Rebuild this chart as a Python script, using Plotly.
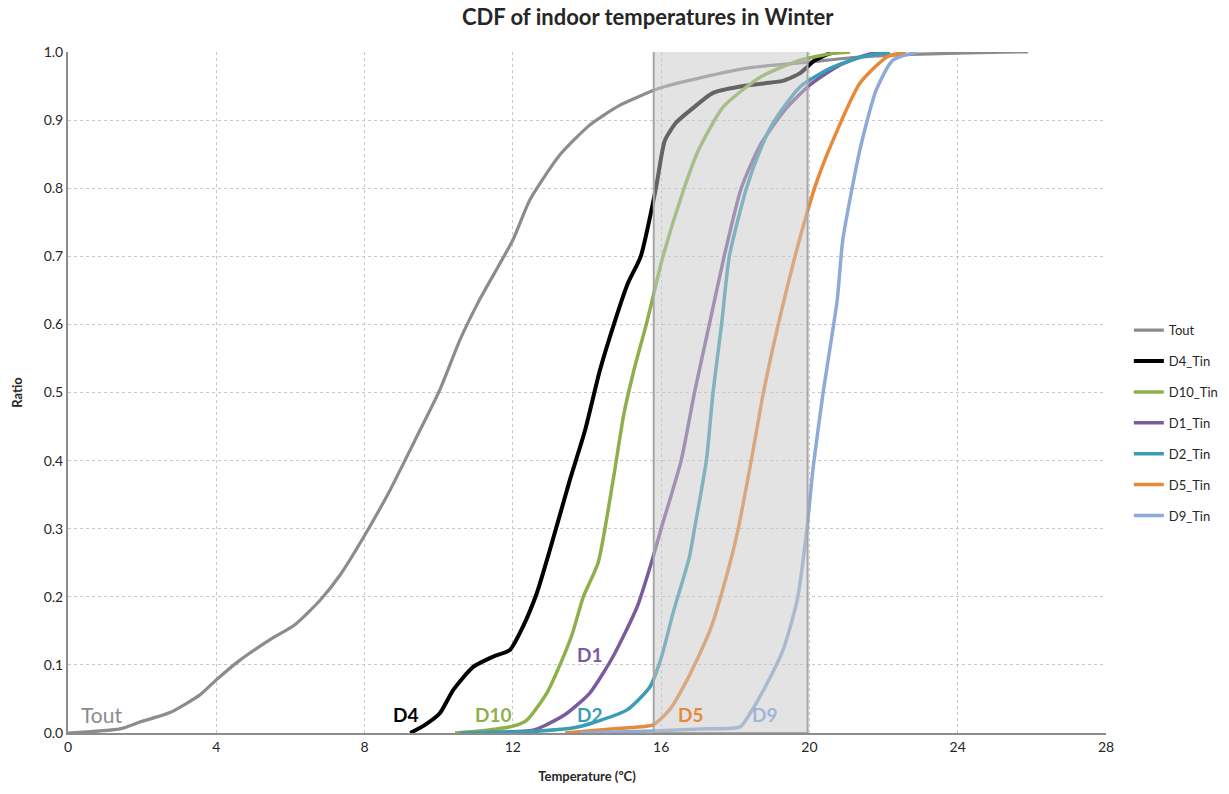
import plotly.graph_objects as go

# ---- data ----
tout_x = [0, 1.4, 1.94, 2.75, 3.56, 4.0, 4.64, 5.45, 6.12, 6.8, 7.34, 8.0, 8.69, 9.36, 10.03, 10.57,
          11.1, 12.0, 12.46, 13.27, 14.08, 14.89, 15.97, 17.05, 18.4, 19.96, 21.4, 23.0, 25.6, 25.9]
tout_y = [0, 0.006, 0.016, 0.03, 0.056, 0.078, 0.107, 0.137, 0.159, 0.195, 0.232, 0.29, 0.357, 0.43,
          0.504, 0.577, 0.636, 0.724, 0.783, 0.849, 0.893, 0.922, 0.947, 0.962, 0.977, 0.985, 0.993,
          0.997, 1.0, 1.0]

d4_x = [9.23, 9.63, 10.03, 10.39, 10.93, 11.46, 11.92, 12.27, 12.65, 13.0, 13.54, 13.95, 14.35,
        14.76, 15.1, 15.45, 15.86, 16.1, 16.4, 16.8, 17.4, 18.1, 18.8, 19.3, 19.75, 20.15, 20.56, 20.8]
d4_y = [0, 0.012, 0.029, 0.063, 0.097, 0.112, 0.122, 0.156, 0.206, 0.269, 0.372, 0.445, 0.533,
        0.606, 0.66, 0.7, 0.8, 0.87, 0.896, 0.915, 0.94, 0.949, 0.954, 0.958, 0.969, 0.988, 0.998, 1.0]

d10_x = [10.44, 11.3, 12.0, 12.38, 12.92, 13.27, 13.6, 13.9, 14.3, 14.7, 15.0, 15.3, 15.6,
         16.05, 16.62, 17.0, 17.67, 18.67, 19.75, 20.64, 21.1]
d10_y = [0, 0.004, 0.01, 0.019, 0.059, 0.1, 0.145, 0.2, 0.25, 0.37, 0.47, 0.54, 0.6,
         0.7, 0.8, 0.855, 0.919, 0.963, 0.988, 0.998, 1.0]

d1_x = [10.84, 12.54, 12.9, 13.46, 14.08, 14.7, 15.35, 15.78, 16.0, 16.54, 16.9, 17.3, 17.7,
        18.16, 18.67, 19.34, 20.02, 20.83, 21.63, 22.17]
d1_y = [0, 0.004, 0.012, 0.029, 0.059, 0.112, 0.185, 0.258, 0.3, 0.4, 0.5, 0.6, 0.7,
        0.8, 0.863, 0.915, 0.952, 0.981, 0.997, 1.0]

d2_x = [10.57, 12.73, 13.68, 14.16, 15.08, 15.7, 16.0, 16.32, 16.76, 16.9, 17.22, 17.4, 17.63,
        17.84, 18.3, 18.7, 19.02, 19.75, 20.56, 21.36, 22.17]
d2_y = [0, 0.003, 0.008, 0.015, 0.034, 0.068, 0.11, 0.176, 0.258, 0.3, 0.4, 0.5, 0.6,
        0.7, 0.8, 0.86, 0.896, 0.949, 0.976, 0.992, 1.0]

d5_x = [13.41, 14.89, 15.78, 16.24, 16.7, 17.32, 17.86, 18.08, 18.43, 18.76, 19.16, 19.75, 20.2,
        20.64, 21.36, 22.1, 22.6]
d5_y = [0, 0.007, 0.012, 0.035, 0.078, 0.151, 0.25, 0.3, 0.4, 0.5, 0.6, 0.728, 0.81,
        0.871, 0.954, 0.993, 1.0]

d9_x = [13.81, 15.78, 17.05, 18.13, 18.4, 18.86, 19.29, 19.67, 19.93, 20.1, 20.37, 20.75, 20.9,
        21.36, 21.8, 22.25, 22.9]
d9_y = [0, 0.003, 0.006, 0.009, 0.029, 0.073, 0.122, 0.195, 0.298, 0.39, 0.5, 0.636, 0.724,
        0.856, 0.944, 0.988, 1.0]

series_names = ["Tout", "D4_Tin", "D10_Tin", "D1_Tin", "D2_Tin", "D5_Tin", "D9_Tin"]
series_x = [tout_x, d4_x, d10_x, d1_x, d2_x, d5_x, d9_x]
series_y = [tout_y, d4_y, d10_y, d1_y, d2_y, d5_y, d9_y]
colors = ["#8c8c8c", "#000000", "#8db04a", "#7a5c9e", "#3b9db5", "#e8893a", "#8eaad6"]
widths = [3.2, 4, 3.5, 3.5, 3.5, 3.5, 3.5]

x_ticks = [0, 4, 8, 12, 16, 20, 24, 28]
y_ticks = [0.0, 0.1, 0.2, 0.3, 0.4, 0.5, 0.6, 0.7, 0.8, 0.9, 1.0]

comfort_lo, comfort_hi = 15.8, 19.95

labels = [("Tout", 0.3, 0.006, "#8c8c8c", False, 21),
          ("D4", 8.7, 0.008, "#000000", True, 19),
          ("D10", 10.92, 0.008, "#8db04a", True, 19),
          ("D1", 13.67, 0.095, "#7a5c9e", True, 19),
          ("D2", 13.67, 0.008, "#3b9db5", True, 19),
          ("D5", 16.4, 0.008, "#e8893a", True, 19),
          ("D9", 18.4, 0.008, "rgba(142,170,214,0.8)", True, 19)]

FONT = "Lato, 'Open Sans', sans-serif"

fig = go.Figure()
for i, (n, xs, ys) in enumerate(zip(series_names, series_x, series_y)):
    fig.add_trace(go.Scatter(
        x=xs, y=ys, name=n, mode="lines",
        line=dict(color=colors[i], width=widths[i], shape="spline", smoothing=0.6),
        legendgroup=n,
    ))

fig.add_shape(type="rect", xref="x", yref="y", x0=comfort_lo, x1=comfort_hi, y0=0, y1=1.003,
              line=dict(color="#a6a6a6", width=2), fillcolor="rgba(200,200,200,0.5)", layer="above")

for txt, x, y, c, bold, sz in labels:
    fig.add_annotation(x=x, y=y, text=f"<b>{txt}</b>" if bold else txt, showarrow=False,
                       xanchor="left", yanchor="bottom", font=dict(size=sz, color=c, family=FONT))

fig.update_layout(
    width=1229, height=794,
    margin=dict(l=68, r=123, t=52, b=61, autoexpand=False),
    paper_bgcolor="white", plot_bgcolor="white",
    font=dict(family=FONT, color="#262626"),
    title=dict(text="<b>CDF of indoor temperatures in Winter</b>", x=0.527, xref="container",
               xanchor="center", y=0.978, yanchor="middle",
               font=dict(size=22, color="#262626", family=FONT)),
    legend=dict(x=1.022, y=0.455, xanchor="left", yanchor="middle", font=dict(size=13, color="#262626"),
                tracegroupgap=11, itemwidth=30, bgcolor="rgba(0,0,0,0)"),
    showlegend=True,
)
fig.update_xaxes(range=[0, 28], tickvals=x_ticks, ticks="", showgrid=True, gridcolor="#c8c8c8",
                 griddash="dot", gridwidth=1, showline=True, linecolor="#8c8c8c", linewidth=2,
                 zeroline=False, tickfont=dict(size=14, color="#262626"),
                 title=dict(text="<b>Temperature (ºC)</b>", font=dict(size=13), standoff=18))
fig.update_yaxes(range=[0, 1.0], tickvals=y_ticks, tickformat=".1f", ticks="", showgrid=True,
                 gridcolor="#c8c8c8", griddash="dot", gridwidth=1, showline=True, linecolor="#8c8c8c",
                 linewidth=2, zeroline=False, tickfont=dict(size=14, color="#262626"),
                 title=dict(text="<b>Ratio</b>", font=dict(size=13), standoff=18))

fig.write_html("out.html")
